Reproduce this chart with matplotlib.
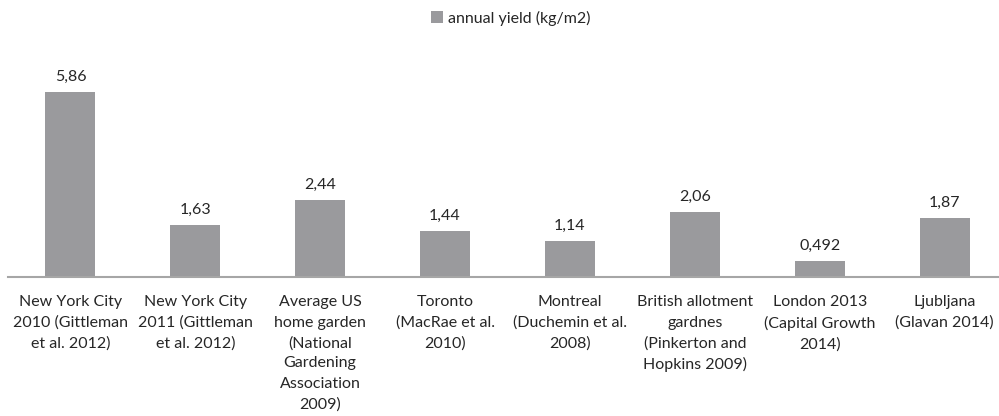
import matplotlib
matplotlib.use("Agg")
import matplotlib.pyplot as plt

categories = [
    "New York City\n2010 (Gittleman\net al. 2012)",
    "New York City\n2011 (Gittleman\net al. 2012)",
    "Average US\nhome garden\n(National\nGardening\nAssociation\n2009)",
    "Toronto\n(MacRae et al.\n2010)",
    "Montreal\n(Duchemin et al.\n2008)",
    "British allotment\ngardnes\n(Pinkerton and\nHopkins 2009)",
    "London 2013\n(Capital Growth\n2014)",
    "Ljubljana\n(Glavan 2014)",
]
values = [5.86, 1.63, 2.44, 1.44, 1.14, 2.06, 0.492, 1.87]
value_labels = ["5,86", "1,63", "2,44", "1,44", "1,14", "2,06", "0,492", "1,87"]
series_name = "annual yield (kg/m2)"

plt.rcParams['font.family'] = ['Lato', 'DejaVu Sans']
text_color = "#262626"
bar_color = "#9a9a9d"
fs = 11.5

fig = plt.figure(figsize=(9.99, 4.16), dpi=100)
ax = fig.add_axes([8/999, (416-276.7)/416, 999/999, 220.3/416])
x = list(range(len(categories)))
bars = ax.bar(x, values, width=0.4, color=bar_color, label=series_name)
ax.set_xlim(-0.5, len(categories) - 0.5)
ax.set_ylim(0, 7)
ax.bar_label(bars, labels=value_labels, padding=6, fontsize=fs, color=text_color)

ax.set_xticks(x)
ax.set_xticklabels(categories, fontsize=fs, color=text_color, linespacing=1.56)
ax.tick_params(axis='x', length=0, pad=13.5)
ax.set_yticks([])
for s in ['top', 'right', 'left']:
    ax.spines[s].set_visible(False)
ax.spines['bottom'].set_color('#a6a6a6')
ax.spines['bottom'].set_linewidth(1.5)

fig.legend(handles=[bars], labels=[series_name], loc='center', bbox_to_anchor=(511/999, 1 - 18/416),
           frameon=False, fontsize=fs, handlelength=0.7, handleheight=0.7,
           handletextpad=0.35, labelcolor=text_color)

fig.savefig("out.png", dpi=100)
